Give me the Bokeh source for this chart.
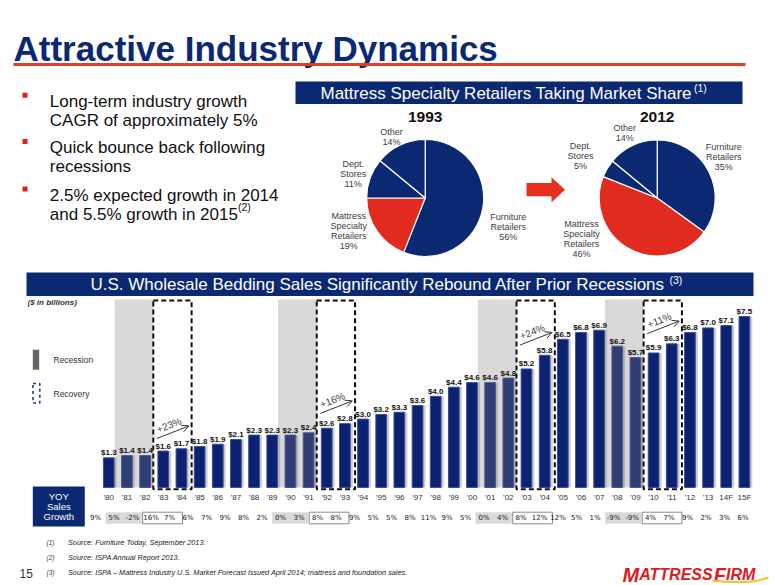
import math
from bokeh.plotting import figure
from bokeh.models import Range1d, Arrow, OpenHead, ColumnDataSource
from bokeh.core.properties import value
from bokeh.transform import dodge
from bokeh.embed import file_html
from bokeh.resources import INLINE

# ---------------- data ----------------
years = ["'80", "'81", "'82", "'83", "'84", "'85", "'86", "'87", "'88", "'89",
         "'90", "'91", "'92", "'93", "'94", "'95", "'96", "'97", "'98", "'99",
         "'00", "'01", "'02", "'03", "'04", "'05", "'06", "'07", "'08", "'09",
         "'10", "'11", "'12", "'13", "14F", "15F"]
sales = [1.3, 1.4, 1.4, 1.6, 1.7, 1.8, 1.9, 2.1, 2.3, 2.3,
         2.3, 2.4, 2.6, 2.8, 3.0, 3.2, 3.3, 3.6, 4.0, 4.4,
         4.6, 4.6, 4.8, 5.2, 5.8, 6.5, 6.8, 6.9, 6.2, 5.7,
         5.9, 6.3, 6.8, 7.0, 7.1, 7.5]
yoy_growth = ["9%", "5%", "-2%", "16%", "7%", "6%", "7%", "9%", "8%", "2%",
              "0%", "3%", "8%", "8%", "9%", "5%", "5%", "8%", "11%", "9%",
              "5%", "0%", "4%", "8%", "12%", "12%", "5%", "1%", "-9%", "-9%",
              "4%", "7%", "9%", "2%", "3%", "6%"]
recession_periods = [("'81", "'82"), ("'90", "'91"), ("'01", "'02"), ("'08", "'09")]
recovery_periods = [("'83", "'84"), ("'92", "'93"), ("'03", "'04"), ("'10", "'11")]
recovery_growth = ["+23%", "+16%", "+24%", "+11%"]

channel_lines = [["Furniture", "Retailers"], ["Mattress", "Specialty", "Retailers"],
                 ["Dept.", "Stores"], ["Other"]]
share_1993 = [56, 19, 11, 14]
share_2012 = [35, 46, 5, 14]

bullet_points = [["Long-term industry growth", "CAGR of approximately 5%"],
                 ["Quick bounce back following", "recessions"],
                 ["2.5% expected growth in 2014", "and 5.5% growth in 2015"]]
footnotes = ["Source: Furniture Today, September 2013.",
             "Source: ISPA Annual Report 2013.",
             "Source: ISPA \u2013 Mattress Industry U.S. Market Forecast issued April 2014; mattress and foundation sales."]

# ---------------- style / layout ----------------
NAVY = "#0b2873"
RED = "#e12b1f"
FONT = "Liberation Sans"
W, H = 780, 585

BAR_X0, BAR_STEP = 108.3, 18.16
BASE_PX, PXU = 487.0, 22.8
YOY_X0, YOY_STEP = 95.0, 18.5


def Y(py):
    return H - py


def V(py):
    return (BASE_PX - py) / PXU


p = figure(width=W, height=H, x_range=Range1d(0, W), y_range=Range1d(0, H),
           output_backend="svg", toolbar_location=None,
           x_axis_location=None, y_axis_location=None, min_border=0,
           outline_line_color=None, background_fill_color="white")
p.grid.visible = False
p.extra_x_ranges = {"bars": Range1d((0 - BAR_X0) / BAR_STEP, (W - BAR_X0) / BAR_STEP),
                    "yoy": Range1d((0 - YOY_X0) / YOY_STEP, (W - YOY_X0) / YOY_STEP)}
p.extra_y_ranges = {"val": Range1d(V(H), V(0))}


def txt(x, y, s, size, color="#222222", bold=False, italic=False, align="left",
        baseline="middle", font=FONT, angle=0.0, xr="default", yr="default"):
    style = ("bold " if bold else "") + ("italic" if italic else "")
    style = style.strip() or "normal"
    p.text(x=[x], y=[y], text=[s], text_font=value(font), text_font_size=f"{size}px",
           text_font_style=style, text_color=color, text_align=align,
           text_baseline=baseline, angle=angle, x_range_name=xr, y_range_name=yr)


# ---- title ----
txt(13, Y(48), "Attractive Industry Dynamics", 35, NAVY, bold=True, baseline="alphabetic")
p.line([13, 745], [Y(64), Y(64)], line_color="#e2411f", line_width=3)

# ---- bullets ----
first_baselines = [100.7, 147.0, 194.5]
for bi, lines in enumerate(bullet_points):
    b0 = first_baselines[bi]
    p.rect(x=[24.5], y=[Y(b0 - 6)], width=5, height=5, fill_color="#e0201c", line_color=None)
    for li, line in enumerate(lines):
        txt(49.3, Y(b0 + 19 * li), line, 17, "#111111", baseline="alphabetic")
txt(237.5, Y(first_baselines[2] + 19 - 7), "(2)", 10.5, "#111111", baseline="alphabetic")

# ---- market share banner ----
p.quad(left=[295], right=[742], top=[Y(81)], bottom=[Y(103.5)], fill_color=NAVY, line_color=None)
txt(320, Y(92.5), "Mattress Specialty Retailers Taking Market Share", 17, "white")
txt(693.5, Y(87.5), "(1)", 10.5, "white")

# ---- pies ----
def pie(cx, cy, r, shares, year, label_pos):
    total = float(sum(shares))
    cum = 0.0
    starts, ends, colors = [], [], []
    for i, s in enumerate(shares):
        c0 = cum / total
        cum += s
        c1 = cum / total
        starts.append(math.pi / 2 - c1 * 2 * math.pi)
        ends.append(math.pi / 2 - c0 * 2 * math.pi)
        colors.append(RED if i == 1 else NAVY)
    src = ColumnDataSource(dict(x=[cx] * len(shares), y=[Y(cy)] * len(shares),
                                s=starts, e=ends, c=colors))
    p.wedge(x="x", y="y", radius=r, start_angle="s", end_angle="e", direction="anticlock",
            fill_color="c", line_color="white", line_width=1.2, source=src)
    txt(cx, Y(116.7), year, 15.5, "#111111", bold=True, align="center")
    for i, (lx, ly) in enumerate(label_pos):
        lines = channel_lines[i] + [f"{shares[i]}%"]
        for k, ln in enumerate(lines):
            txt(lx, Y(ly + 10 * k), ln, 9, "#404040", align="center")


pie(424.7, 197.5, 58.5, share_1993, "1993",
    [(507.7, 216.0), (348.3, 215.0), (352.7, 163.3), (391.0, 131.7)])
pie(656.7, 197.5, 58.0, share_2012, "2012",
    [(723.3, 146.7), (581.0, 223.3), (580.0, 145.7), (624.3, 127.0)])

# red arrow between pies
p.patch(x=[526, 551, 551, 564.5, 551, 551, 526],
        y=[Y(182.5), Y(182.5), Y(176.7), Y(189.2), Y(201.7), Y(195.7), Y(195.7)],
        fill_color="#e8301e", line_color=None)

# ---- sales banner ----
p.quad(left=[26], right=[753], top=[Y(272)], bottom=[Y(295.5)], fill_color=NAVY, line_color=None)
txt(90, Y(284), "U.S. Wholesale Bedding Sales Significantly Rebound After Prior Recessions", 17, "white")
txt(669, Y(279), "(3)", 10.5, "white")
txt(27, Y(302.3), "($ in billions)", 8, "#333333", bold=True, italic=True)

# legend
p.quad(left=[32.3], right=[38.7], top=[Y(349.3)], bottom=[Y(369.3)], fill_color="#666666", line_color=None)
txt(53, Y(359.5), "Recession", 8.5, "#333333")
p.quad(left=[32.5], right=[39.3], top=[Y(383)], bottom=[Y(402.5)], fill_alpha=0,
       line_color="#1f3a8f", line_dash="3 3", line_width=1.6)
txt(53, Y(393), "Recovery", 8.5, "#333333")

# ---- bar chart ----
idx = {y: i for i, y in enumerate(years)}
bsrc = ColumnDataSource(dict(x=list(range(len(years))), top=sales, yr=years,
                             lab=[f"${v:.1f}" for v in sales], yoy=yoy_growth))
p.vbar(x=dodge("x", 0.14), top="top", bottom=0, width=0.6, source=bsrc,
       fill_color="#b8b8b8", fill_alpha=0.7, line_color=None,
       x_range_name="bars", y_range_name="val")
p.vbar(x="x", top="top", bottom=0, width=0.59, source=bsrc,
       fill_color="#0e2170", line_color="#3a4f9c", line_width=1,
       x_range_name="bars", y_range_name="val")

# recession bands (drawn over bars, translucent)
rl = [idx[a] - 0.68 for a, b in recession_periods]
rr = [idx[b] + 0.45 for a, b in recession_periods]
p.quad(left=rl, right=rr, top=[V(299)] * len(rl), bottom=[0] * len(rl),
       fill_color="#808080", fill_alpha=0.30, line_color=None,
       x_range_name="bars", y_range_name="val")

# recovery boxes + arrows
kl = [idx[a] - 0.55 for a, b in recovery_periods]
kr = [idx[b] + 0.56 for a, b in recovery_periods]
p.quad(left=kl, right=kr, top=[V(300)] * len(kl), bottom=[V(488.7)] * len(kl),
       fill_alpha=0, line_color="#111111", line_dash="5 3", line_width=2,
       x_range_name="bars", y_range_name="val")
for (a, b), g, l, r in zip(recovery_periods, recovery_growth, kl, kr):
    vend = sales[idx[b]]
    x0, x1 = l + 0.2, r - 0.15
    y0, y1 = vend + 0.45, vend + 1.0
    p.add_layout(Arrow(end=OpenHead(size=7, line_color="#333333", line_width=1),
                       x_start=x0, y_start=y0, x_end=x1, y_end=y1,
                       line_color="#333333", line_width=1,
                       x_range_name="bars", y_range_name="val"))
    ang = math.atan2((y1 - y0) * PXU, (x1 - x0) * BAR_STEP)
    txt((x0 + x1) / 2 - 0.1, (y0 + y1) / 2 + 0.08, g, 10, "#444444", align="center",
        baseline="bottom", angle=ang, xr="bars", yr="val")

# value labels
p.text(x="x", y="top", text="lab", source=bsrc, text_font=value(FONT),
       text_font_size="8px", text_font_style="bold", text_color="#111111",
       text_align="center", text_baseline="bottom", y_offset=-0.5,
       x_range_name="bars", y_range_name="val")
# category labels
p.text(x="x", y=Y(496.5), text="yr", source=bsrc, text_font=value(FONT),
       text_font_size="8px", text_color="#333333", text_align="center",
       text_baseline="middle", x_range_name="bars")

# ---- YOY row ----
p.quad(left=[32.3], right=[84.3], top=[Y(486)], bottom=[Y(526)], fill_color=NAVY, line_color=None)
for k, w in enumerate(["YOY", "Sales", "Growth"]):
    txt(58.3, Y(495.7 + 10.2 * k), w, 9.5, "white", align="center")

gl = [idx[a] - 0.45 for a, b in recession_periods]
gr = [idx[b] + 0.5 for a, b in recession_periods]
p.quad(left=gl, right=gr, top=[Y(511.7)] * 4, bottom=[Y(523.3)] * 4,
       fill_color="#d9d9d9", line_color=None, x_range_name="yoy")
wl = [idx[a] - 0.45 for a, b in recovery_periods]
wr = [idx[b] + 0.7 for a, b in recovery_periods]
p.quad(left=wl, right=wr, top=[Y(511.7)] * 4, bottom=[Y(523.3)] * 4,
       fill_color="white", line_color="#8a8a8a", line_width=1, x_range_name="yoy")
p.text(x="x", y=Y(517.5), text="yoy", source=bsrc, text_font=value("DejaVu Sans"),
       text_font_size="7px", text_color="#222222", text_align="center",
       text_baseline="middle", x_range_name="yoy")

# ---- footnotes ----
for k, fn in enumerate(footnotes):
    yy = 542 + 15 * k
    txt(46, Y(yy), f"({k + 1})", 6.5, "#333333", italic=True)
    txt(67.5, Y(yy), fn, 7.3, "#222222", italic=True)
txt(19, Y(573), "15", 12, "#333333")

# logo
lx = 622
for part, sz, wdt in [("M", 20, 0.833), ("ATTRESS", 16, 4.667), ("F", 20, 0.611), ("IRM", 16, 1.833)]:
    txt(lx, Y(574), part, sz, "#e01a22", bold=True, italic=True, baseline="alphabetic")
    lx += sz * wdt
p.bezier(x0=[712], y0=[Y(580)], x1=[768], y1=[Y(577)], cx0=[735], cy0=[Y(583)],
         cx1=[755], cy1=[Y(582)], line_color="#f2c230", line_width=2)

open("out.html", "w").write(file_html(p, INLINE))
